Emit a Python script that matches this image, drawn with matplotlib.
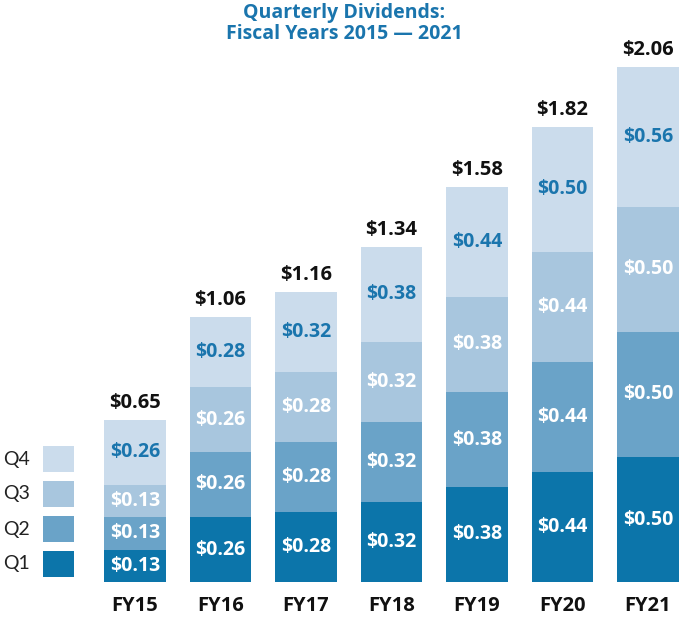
import matplotlib
matplotlib.use("Agg")
import matplotlib.pyplot as plt
from matplotlib.patches import Rectangle
import numpy as np

years = ["FY15", "FY16", "FY17", "FY18", "FY19", "FY20", "FY21"]
q1 = [0.13, 0.26, 0.28, 0.32, 0.38, 0.44, 0.50]
q2 = [0.13, 0.26, 0.28, 0.32, 0.38, 0.44, 0.50]
q3 = [0.13, 0.26, 0.28, 0.32, 0.38, 0.44, 0.50]
q4 = [0.26, 0.28, 0.32, 0.38, 0.44, 0.50, 0.56]
quarters = ["Q1", "Q2", "Q3", "Q4"]

COLORS = ["#0c75aa", "#6aa3c8", "#a8c6de", "#cbdcec"]
LABEL_COLORS = ["white", "white", "white", "#1a75ad"]
BLUE = "#1a75ad"

plt.rcParams["font.family"] = ["Open Sans", "DejaVu Sans"]

fig = plt.figure(figsize=(6.92, 6.24), dpi=100)
# axes spans full width; bottom of bars at 582 px from top
ax = fig.add_axes([0, 42 / 624, 1, 582 / 624])
ax.set_xlim(-135 / 85.5, (692 - 135) / 85.5)
ax.set_ylim(0, 582 / 250)
ax.axis("off")

x = np.arange(len(years))
width = 0.725
bottom = np.zeros(len(years))
for series, color, tcolor in zip([q1, q2, q3, q4], COLORS, LABEL_COLORS):
    vals = np.asarray(series)
    ax.bar(x, vals, width, bottom=bottom, color=color, linewidth=0)
    for xi, b, v in zip(x, bottom, vals):
        ax.text(xi, b + v / 2, f"${v:.2f}", ha="center", va="center",
                fontsize=14, fontweight="bold", color=tcolor)
    bottom = bottom + vals

for xi, tot in zip(x, bottom):
    ax.annotate(f"${tot:.2f}", (xi, tot), xytext=(0, 5), textcoords="offset points",
                ha="center", va="bottom", fontsize=14.5, fontweight="bold", color="#111111")

for xi, yr in zip(x, years):
    ax.annotate(yr, (xi, 0), xytext=(0, -17.5), textcoords="offset points",
                ha="center", va="center", fontsize=14.5, fontweight="bold", color="#111111")

# legend on the left, Q4 at top
for i, (q, color) in enumerate(zip(quarters[::-1], COLORS[::-1])):
    top = 446 + i * 35
    fig.add_artist(Rectangle((43 / 692, 1 - (top + 26) / 624), 31 / 692, 26 / 624,
                             transform=fig.transFigure, facecolor=color, edgecolor="none"))
    fig.text(3 / 692, 1 - (top + 13) / 624, q, ha="left", va="center",
             fontsize=14, color="#222222", family=["Lato", "DejaVu Sans"])

fig.text(0.497, 1 - 13 / 624, "Quarterly Dividends:", ha="center", va="center",
         fontsize=14, fontweight="bold", color=BLUE)
fig.text(0.497, 1 - 34 / 624, "Fiscal Years 2015 \u2014 2021", ha="center", va="center",
         fontsize=14, fontweight="bold", color=BLUE)

fig.savefig("out.png", dpi=100)
